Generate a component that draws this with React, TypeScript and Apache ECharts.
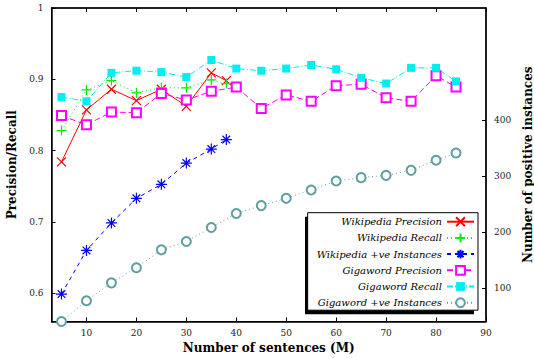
import React, { useEffect, useRef } from "react";
import * as echarts from "echarts";

const wikiX = [5, 10, 15, 20, 25, 30, 35, 38];
const wikiPrecision = [0.784, 0.857, 0.886, 0.870, 0.886, 0.862, 0.909, 0.898];
const wikiRecall = [0.828, 0.885, 0.898, 0.881, 0.888, 0.888, 0.899, 0.894];
const wikiInstances = [89, 167, 216, 260, 285, 323, 348, 365];

const gigaX = [5, 10, 15, 20, 25, 30, 35, 40, 45, 50, 55, 60, 65, 70, 75, 80, 84];
const gigaPrecision = [0.849, 0.836, 0.854, 0.853, 0.880, 0.871, 0.883, 0.889, 0.859, 0.878, 0.869, 0.891, 0.893, 0.874, 0.869, 0.905, 0.889];
const gigaRecall = [0.875, 0.869, 0.909, 0.912, 0.910, 0.903, 0.927, 0.915, 0.912, 0.915, 0.920, 0.914, 0.902, 0.894, 0.916, 0.916, 0.897];
const gigaInstances = [40, 77, 109, 136, 168, 183, 208, 233, 247, 260, 275, 291, 297, 301, 310, 328, 341];

const xTicks = [10, 20, 30, 40, 50, 60, 70, 80, 90];
const leftTicks = [0.6, 0.7, 0.8, 0.9, 1];
const rightTicks = [100, 200, 300, 400];

const legendNames = [
  "Wikipedia Precision", "Wikipedia Recall", "Wikipedia +ve Instances",
  "Gigaword Precision", "Gigaword Recall", "Gigaword +ve Instances",
];

const CROSS = "path://M0,0L10,10M10,0L0,10";
const PLUS = "path://M5,0L5,10M0,5L10,5";
const STAR = "path://M5,0L5,10M0,5L10,5M1.5,1.5L8.5,8.5M8.5,1.5L1.5,8.5";

const zip = (xs: number[], ys: number[]) => xs.map((x, i) => [x, ys[i]]);

const serif = "'DejaVu Serif', serif";

// legend box geometry
const LEG_RIGHT = 56;
const LEG_TOP = 212.7;
const LEG_TEXT_W = 125;
const LEG_PAD = [2.5, 3, 1, 9];
const LEG_ITEM_W = 27;
const LEG_LINE_H = 13;
const LEG_GAP = 3.2;

export default function App() {
  const ref = useRef<HTMLDivElement>(null);
  useEffect(() => {
    if (!ref.current) return;
    const chart = echarts.init(ref.current, null, { renderer: "svg" });
    const tickLabel = { fontFamily: serif, fontSize: 9, color: "#1a1a1a" };
    const nameStyle = { fontFamily: serif, fontSize: 12, fontWeight: "bold" as const, color: "#000" };
    const legW = LEG_PAD[3] + LEG_TEXT_W + 5 + LEG_ITEM_W + LEG_PAD[1];
    const legH = LEG_PAD[0] + legendNames.length * LEG_LINE_H + (legendNames.length - 1) * LEG_GAP + LEG_PAD[2];
    const legLeft = 534 - LEG_RIGHT - legW;
    chart.setOption({
      animation: false,
      grid: { left: 51.5, right: 48, top: 8, bottom: 36.5, show: true, borderColor: "#000", borderWidth: 1, outerBoundsMode: "none" },
      graphic: [
        {
          type: "rect", z: 0,
          shape: { x: legLeft - 4, y: LEG_TOP + 4, width: legW, height: legH },
          style: { fill: "#000" },
        },
      ],
      xAxis: [
        {
          type: "value", min: 3, max: 90, position: "bottom",
          name: "Number of sentences (M)", nameLocation: "middle", nameGap: 20, nameTextStyle: nameStyle,
          axisLine: { show: true, lineStyle: { color: "#000", width: 1.5 } },
          axisTick: { show: true, inside: true, length: 4, customValues: xTicks, lineStyle: { color: "#000" } },
          axisLabel: { customValues: xTicks, margin: 7, ...tickLabel },
          splitLine: { show: false },
        },
        {
          type: "value", min: 3, max: 90, position: "top",
          axisLine: { show: true, lineStyle: { color: "#000", width: 1.5 } },
          axisTick: { show: true, inside: true, length: 4, customValues: xTicks, lineStyle: { color: "#000" } },
          axisLabel: { show: false },
          splitLine: { show: false },
        },
      ],
      yAxis: [
        {
          type: "value", min: 0.56, max: 1, position: "left",
          name: "Precision/Recall", nameLocation: "middle", nameGap: 27, nameTextStyle: nameStyle,
          axisLine: { show: true, lineStyle: { color: "#000", width: 1.5 } },
          axisTick: { show: true, inside: true, length: 4, customValues: leftTicks, lineStyle: { color: "#000" } },
          axisLabel: { customValues: leftTicks, margin: 8, ...tickLabel },
          splitLine: { show: false },
        },
        {
          type: "value", min: 40, max: 600, position: "right",
          name: "Number of positive instances", nameLocation: "middle", nameGap: 33, nameRotate: 90, nameTextStyle: nameStyle,
          axisLine: { show: true, lineStyle: { color: "#000", width: 1.5 } },
          axisTick: { show: true, inside: true, length: 4, customValues: rightTicks, lineStyle: { color: "#000" } },
          axisLabel: { customValues: rightTicks, margin: 8, ...tickLabel },
          splitLine: { show: false },
        },
      ],
      legend: {
        orient: "vertical", align: "right", right: LEG_RIGHT, top: LEG_TOP, z: 5,
        itemWidth: LEG_ITEM_W, itemHeight: 11, itemGap: LEG_GAP,
        padding: LEG_PAD,
        backgroundColor: "#fff", borderColor: "#000", borderWidth: 1,
        textStyle: {
          fontFamily: serif, fontStyle: "italic", fontSize: 10, color: "#000",
          lineHeight: LEG_LINE_H, width: LEG_TEXT_W, align: "right", overflow: "none",
        },
        data: legendNames,
      },
      series: [
        {
          name: legendNames[0], type: "line", data: zip(wikiX, wikiPrecision),
          symbol: CROSS, symbolSize: 9,
          lineStyle: { color: "#ff0000", width: 1, type: "solid" },
          itemStyle: { color: "#ff0000", borderColor: "#ff0000", borderWidth: 1.2 },
        },
        {
          name: legendNames[1], type: "line", data: zip(wikiX, wikiRecall),
          symbol: PLUS, symbolSize: 10,
          lineStyle: { color: "#00ee00", width: 1, type: [1, 3] },
          itemStyle: { color: "#00ee00", borderColor: "#00ee00", borderWidth: 1.2 },
        },
        {
          name: legendNames[2], type: "line", yAxisIndex: 1, data: zip(wikiX, wikiInstances),
          symbol: STAR, symbolSize: 11,
          lineStyle: { color: "#0000ff", width: 1, type: [4, 4] },
          itemStyle: { color: "#0000ff", borderColor: "#0000ff", borderWidth: 1.2 },
        },
        {
          name: legendNames[3], type: "line", data: zip(gigaX, gigaPrecision),
          symbol: "emptyRect", symbolSize: 9,
          lineStyle: { color: "#ff00ff", width: 1, type: [6, 3] },
          itemStyle: { color: "#ff00ff", borderColor: "#ff00ff", borderWidth: 1.2 },
        },
        {
          name: legendNames[4], type: "line", data: zip(gigaX, gigaRecall),
          symbol: "rect", symbolSize: 8,
          lineStyle: { color: "#00eeee", width: 1, type: [6, 2, 1, 2] },
          itemStyle: { color: "#00eeee", borderWidth: 0 },
        },
        {
          name: legendNames[5], type: "line", yAxisIndex: 1, data: zip(gigaX, gigaInstances),
          symbol: "emptyCircle", symbolSize: 9,
          lineStyle: { color: "#5f9ea0", width: 1, type: [1, 3] },
          itemStyle: { color: "#5f9ea0", borderColor: "#5f9ea0", borderWidth: 1.2 },
        },
      ],
    });
    return () => chart.dispose();
  }, []);
  return <div ref={ref} style={{ width: 534, height: 358, position: "absolute", left: 0, top: 0 }} />;
}
